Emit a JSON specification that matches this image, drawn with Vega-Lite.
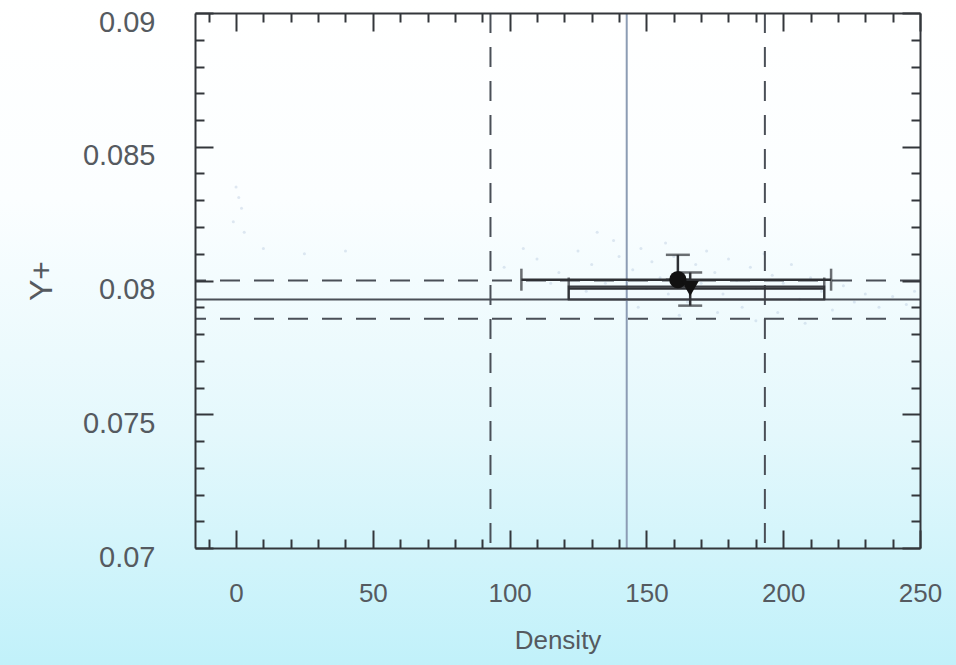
{
  "$schema": "https://vega.github.io/schema/vega-lite/v6.json",
  "autosize": {"type": "none"},
  "padding": {"left": 195, "top": 13, "right": 36, "bottom": 117},
  "width": 725,
  "height": 535,
  "background": "#ffffff",
  "config": {
    "view": {"stroke": null},
    "font": "Liberation Sans"
  },
  "datasets": {
    "hlines": [
      {"y": 0.07929, "kind": "mean"},
      {"y": 0.08000, "kind": "band"},
      {"y": 0.07857, "kind": "band"}
    ],
    "vlines": [
      {"x": 142.8, "kind": "mean"},
      {"x": 93.0, "kind": "band"},
      {"x": 193.3, "kind": "band"}
    ],
    "errs": [
      {"id": 1, "x": 161.5, "y": 0.08003, "xlo": 104.3, "xhi": 217.5, "ylo": 0.08003, "yhi": 0.08096},
      {"id": 2, "x": 166.0, "y": 0.0797, "xlo": 121.6, "xhi": 215.0, "ylo": 0.07906, "yhi": 0.0803}
    ],
    "box": [
      {"xlo": 121.6, "xhi": 215.0, "ytop": 0.07978, "ybot": 0.07929}
    ],
    "noise": [
      {"x": 110, "y": 0.0808}, {"x": 118, "y": 0.0803}, {"x": 125, "y": 0.0811}, {"x": 130, "y": 0.0806},
      {"x": 135, "y": 0.0799}, {"x": 138, "y": 0.0815}, {"x": 140, "y": 0.0809}, {"x": 145, "y": 0.0804},
      {"x": 148, "y": 0.0812}, {"x": 150, "y": 0.0797}, {"x": 152, "y": 0.0807}, {"x": 155, "y": 0.0801},
      {"x": 157, "y": 0.0814}, {"x": 158, "y": 0.0795}, {"x": 160, "y": 0.0809}, {"x": 163, "y": 0.0803},
      {"x": 165, "y": 0.0792}, {"x": 168, "y": 0.0806}, {"x": 170, "y": 0.0799}, {"x": 172, "y": 0.0811},
      {"x": 175, "y": 0.0803}, {"x": 178, "y": 0.0795}, {"x": 180, "y": 0.0808}, {"x": 183, "y": 0.0800},
      {"x": 185, "y": 0.0790}, {"x": 188, "y": 0.0805}, {"x": 190, "y": 0.0797}, {"x": 193, "y": 0.0810},
      {"x": 196, "y": 0.0802}, {"x": 198, "y": 0.0788}, {"x": 200, "y": 0.0799}, {"x": 203, "y": 0.0806},
      {"x": 206, "y": 0.0793}, {"x": 210, "y": 0.0801}, {"x": 214, "y": 0.0796}, {"x": 218, "y": 0.0789},
      {"x": 222, "y": 0.0798}, {"x": 226, "y": 0.0792}, {"x": 230, "y": 0.0795}, {"x": 235, "y": 0.0790},
      {"x": 240, "y": 0.0794}, {"x": 245, "y": 0.0791}, {"x": 248, "y": 0.0796}, {"x": 128, "y": 0.0796},
      {"x": 142, "y": 0.0793}, {"x": 115, "y": 0.0799}, {"x": 105, "y": 0.0812}, {"x": 98, "y": 0.0805},
      {"x": 132, "y": 0.0818}, {"x": 147, "y": 0.0790}, {"x": 162, "y": 0.0787}, {"x": 176, "y": 0.0788},
      {"x": 190, "y": 0.0785}, {"x": 208, "y": 0.0784}, {"x": 0, "y": 0.0835}, {"x": 1, "y": 0.0831},
      {"x": 2, "y": 0.0827}, {"x": -1, "y": 0.0822}, {"x": 3, "y": 0.0818}, {"x": 10, "y": 0.0812},
      {"x": 25, "y": 0.0810}, {"x": 40, "y": 0.0811}
    ]
  },
  "layer": [
    {
      "layer": [
        {
          "data": {"values": [{"band": "background"}]},
          "mark": {
            "type": "rect",
            "fill": {
              "gradient": "linear", "x1": 0, "y1": 0, "x2": 0, "y2": 1,
              "stops": [
                {"offset": 0, "color": "#ffffff"},
                {"offset": 0.3, "color": "#fbfeff"},
                {"offset": 0.65, "color": "#e4f8fc"},
                {"offset": 1, "color": "#c1f1fa"}
              ]
            }
          },
          "encoding": {
            "x": {"datum": -200, "type": "quantitative"},
            "x2": {"datum": 400},
            "y": {"datum": 0.0905, "type": "quantitative"},
            "y2": {"datum": 0.0656}
          }
        },
        {
          "data": {"name": "noise"},
          "mark": {"type": "circle", "color": "#a9bed8", "opacity": 0.35, "size": 9},
          "encoding": {
            "x": {"field": "x", "type": "quantitative"},
            "y": {"field": "y", "type": "quantitative"}
          }
        },
        {
          "data": {"name": "hlines"},
          "mark": {"type": "rule", "color": "#4a4f57", "strokeWidth": 2},
          "encoding": {
            "y": {"field": "y", "type": "quantitative"},
            "strokeDash": {"field": "kind", "type": "nominal", "scale": {"domain": ["mean", "band"], "range": [[1, 0], [20, 14]]}, "legend": null}
          }
        },
        {
          "data": {"name": "vlines"},
          "mark": {"type": "rule", "strokeWidth": 2},
          "encoding": {
            "x": {"field": "x", "type": "quantitative"},
            "strokeDash": {"field": "kind", "type": "nominal", "scale": {"domain": ["mean", "band"], "range": [[1, 0], [22, 14]]}, "legend": null},
            "color": {"field": "kind", "type": "nominal", "scale": {"domain": ["mean", "band"], "range": ["#8c9cb4", "#4a4f57"]}, "legend": null}
          }
        },
        {
          "data": {"name": "box"},
          "mark": {"type": "rect", "fill": null, "stroke": "#3a3d42", "strokeWidth": 2},
          "encoding": {
            "x": {"field": "xlo", "type": "quantitative"},
            "x2": {"field": "xhi"},
            "y": {"field": "ytop", "type": "quantitative"},
            "y2": {"field": "ybot"}
          }
        },
        {
          "data": {"name": "errs"},
          "mark": {"type": "rule", "color": "#2e3034", "strokeWidth": 2.5},
          "encoding": {
            "x": {"field": "xlo", "type": "quantitative"},
            "x2": {"field": "xhi"},
            "y": {"field": "y", "type": "quantitative"}
          }
        },
        {
          "data": {"name": "errs"},
          "mark": {"type": "rule", "color": "#2e3034", "strokeWidth": 2.5},
          "encoding": {
            "x": {"field": "x", "type": "quantitative"},
            "y": {"field": "ylo", "type": "quantitative"},
            "y2": {"field": "yhi"}
          }
        },
        {
          "data": {"name": "errs"},
          "transform": [{"fold": ["xlo", "xhi"], "as": ["end", "xc"]}],
          "mark": {"type": "tick", "orient": "vertical", "color": "#2e3034", "thickness": 2.5, "size": 22},
          "encoding": {
            "x": {"field": "xc", "type": "quantitative"},
            "y": {"field": "y", "type": "quantitative"}
          }
        },
        {
          "data": {"name": "errs"},
          "transform": [{"fold": ["ylo", "yhi"], "as": ["end", "yc"]}],
          "mark": {"type": "tick", "orient": "horizontal", "color": "#2e3034", "thickness": 2.5, "size": 24},
          "encoding": {
            "x": {"field": "x", "type": "quantitative"},
            "y": {"field": "yc", "type": "quantitative"}
          }
        },
        {
          "data": {"name": "errs"},
          "mark": {"type": "point", "filled": true, "color": "#111111", "opacity": 1, "size": 300},
          "encoding": {
            "x": {"field": "x", "type": "quantitative"},
            "y": {"field": "y", "type": "quantitative"},
            "shape": {"field": "id", "type": "nominal", "scale": {"domain": [1, 2], "range": ["circle", "triangle-down"]}, "legend": null}
          }
        }
      ],
      "encoding": {
        "x": {
          "type": "quantitative",
          "scale": {"domain": [-15, 250], "nice": false, "zero": false},
          "axis": {
            "orient": "bottom",
            "zindex": 1,
            "values": [-10, 0, 10, 20, 30, 40, 50, 60, 70, 80, 90, 100, 110, 120, 130, 140, 150, 160, 170, 180, 190, 200, 210, 220, 230, 240, 250],
            "tickSize": {"expr": "datum.value % 50 === 0 ? -18 : -9"},
            "tickColor": "#33363b",
            "tickWidth": 2,
            "domainColor": "#33363b",
            "domainWidth": 2,
            "grid": false,
            "labelExpr": "datum.value % 50 === 0 ? datum.label : ''",
            "labelPadding": 50,
            "labelFontSize": 26,
            "labelColor": "#555a60",
            "labelFlush": false,
            "labelOverlap": false,
            "title": "Density",
            "titleFontSize": 26,
            "titleFontWeight": "normal",
            "titleColor": "#555a60",
            "titlePadding": 12
          }
        },
        "y": {
          "type": "quantitative",
          "scale": {"domain": [0.07, 0.09], "nice": false, "zero": false},
          "axis": {
            "orient": "left",
            "zindex": 1,
            "values": [0.07, 0.071, 0.072, 0.073, 0.074, 0.075, 0.076, 0.077, 0.078, 0.079, 0.08, 0.081, 0.082, 0.083, 0.084, 0.085, 0.086, 0.087, 0.088, 0.089, 0.09],
            "tickSize": {"expr": "round(datum.value * 1000) % 5 === 0 ? -18 : -9"},
            "tickColor": "#33363b",
            "tickWidth": 2,
            "domainColor": "#33363b",
            "domainWidth": 2,
            "grid": false,
            "labelExpr": "round(datum.value * 1000) % 5 === 0 ? format(datum.value, '.3~f') : ''",
            "labelPadding": 58,
            "labelOffset": 9,
            "labelFontSize": 29,
            "labelColor": "#555a60",
            "labelFlush": false,
            "labelOverlap": false,
            "title": "Y+",
            "titleFontSize": 32,
            "titleFontWeight": "normal",
            "titleColor": "#555a60",
            "titlePadding": 24
          }
        }
      }
    },
    {
      "data": {"name": "errs"},
      "mark": {"type": "point", "opacity": 0},
      "encoding": {
        "x": {
          "field": "x",
          "type": "quantitative",
          "scale": {"domain": [-15, 250], "nice": false, "zero": false},
          "axis": {
            "orient": "top",
            "zindex": 1,
            "values": [-10, 0, 10, 20, 30, 40, 50, 60, 70, 80, 90, 100, 110, 120, 130, 140, 150, 160, 170, 180, 190, 200, 210, 220, 230, 240, 250],
            "tickSize": {"expr": "datum.value % 50 === 0 ? -18 : -9"},
            "tickColor": "#33363b",
            "tickWidth": 2,
            "domainColor": "#33363b",
            "domainWidth": 2,
            "grid": false,
            "labels": false,
            "title": null
          }
        },
        "y": {
          "field": "y",
          "type": "quantitative",
          "scale": {"domain": [0.07, 0.09], "nice": false, "zero": false},
          "axis": {
            "orient": "right",
            "zindex": 1,
            "values": [0.07, 0.071, 0.072, 0.073, 0.074, 0.075, 0.076, 0.077, 0.078, 0.079, 0.08, 0.081, 0.082, 0.083, 0.084, 0.085, 0.086, 0.087, 0.088, 0.089, 0.09],
            "tickSize": {"expr": "round(datum.value * 1000) % 5 === 0 ? -18 : -9"},
            "tickColor": "#33363b",
            "tickWidth": 2,
            "domainColor": "#33363b",
            "domainWidth": 2,
            "grid": false,
            "labels": false,
            "title": null
          }
        }
      }
    }
  ],
  "resolve": {"scale": {"x": "independent", "y": "independent"}}
}
